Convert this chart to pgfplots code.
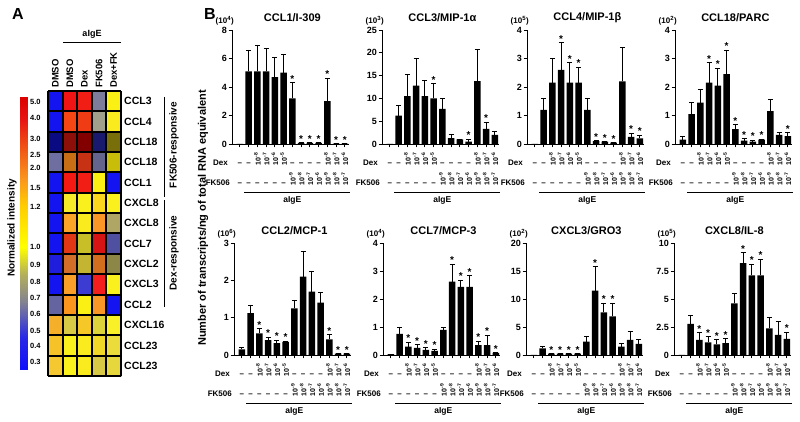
\documentclass[border=0pt]{standalone}
\usepackage{fontspec}
\setmainfont{Liberation Sans}
\usepackage{pgfplots}
\pgfplotsset{compat=1.18}
\newcommand{\fs}[1]{\fontsize{#1}{#1}\selectfont\bfseries}

\pgfplotsset{
  bp/.style={
    scale only axis, width=117.25pt, xmin=0.1, xmax=13.5, ymin=0,
    axis x line*=bottom, axis y line*=left,
    axis line style={line width=0.8pt, black},
    xtick={1,...,13}, xticklabels={},
    tick align=outside, major tick length=3.5pt,
    every tick/.style={line width=0.8pt, black},
    yticklabel style={font=\fs{9}, inner sep=1.5pt},
    /pgf/number format/assume math mode=true,
    clip=false, anchor=south west,
  },
  bars/.style={ybar, bar width=6.5pt, fill=black, draw=none,
    error bars/y dir=plus, error bars/y explicit,
    error bars/error bar style={line width=0.8pt, black},
    error bars/error mark options={rotate=90, mark size=2.6pt, line width=0.8pt, black}},
  stars/.style={draw=none, mark=none, nodes near coords={*},
    every node near coord/.style={anchor=base, inner sep=0pt, font=\fs{10}, yshift=0.5pt}},
  hmgeom/.style={at={(48pt,46pt)}, anchor=south west, scale only axis,
    width=73pt, height=285pt, xmin=-0.5, xmax=4.5, ymin=-0.5, ymax=13.5},
}

\newcommand{\Ld}[2]{\node[anchor=base, inner sep=0pt, font=\fs{8}, yshift=-#2] at (axis cs:#1,0) {--};}
\newcommand{\Lp}[3]{\node[anchor=south, inner sep=0pt, font=\fs{7}, yshift=-#2] at (axis cs:#1,0) {\rotatebox{90}{10\textsuperscript{-#3}}};}
\newcommand{\xrows}{%
  \Ld{1}{21.5pt}\Ld{2}{21.5pt}\Lp{3}{21.5pt}{8}\Lp{4}{21.5pt}{7}\Lp{5}{21.5pt}{6}\Lp{6}{21.5pt}{5}%
  \Ld{7}{21.5pt}\Ld{8}{21.5pt}\Ld{9}{21.5pt}\Ld{10}{21.5pt}\Lp{11}{21.5pt}{8}\Lp{12}{21.5pt}{7}\Lp{13}{21.5pt}{6}%
  \Ld{1}{41.5pt}\Ld{2}{41.5pt}\Ld{3}{41.5pt}\Ld{4}{41.5pt}\Ld{5}{41.5pt}\Ld{6}{41.5pt}%
  \Lp{7}{41.5pt}{9}\Lp{8}{41.5pt}{8}\Lp{9}{41.5pt}{7}\Lp{10}{41.5pt}{6}\Lp{11}{41.5pt}{9}\Lp{12}{41.5pt}{8}\Lp{13}{41.5pt}{7}%
  \node[anchor=base east, inner sep=0pt, font=\fs{8}, yshift=-21.5pt, xshift=-4pt] at (axis cs:0.1,0) {Dex};%
  \node[anchor=base east, inner sep=0pt, font=\fs{8}, yshift=-41.5pt, xshift=-2pt] at (axis cs:0.1,0) {FK506};%
  \draw[line width=0.8pt] ([yshift=-48pt]axis cs:1.5,0) -- ([yshift=-48pt]axis cs:13.6,0);%
  \node[inner sep=0pt, font=\fs{8.5}, yshift=-56pt] at (axis cs:7,0) {aIgE};%
}
\newcommand{\ptitle}[2]{%
  \node[font=\fs{11}, yshift=12.5pt] at (rel axis cs:0.515,1) {#1};%
  \node[font=\fs{8}, anchor=east, inner sep=0pt, yshift=9.5pt, xshift=2pt] at (rel axis cs:0,1) {(10\textsuperscript{#2})};%
}

\begin{document}
\begin{tikzpicture}
\useasboundingbox (0,0) rectangle (800pt,422pt);

% ---------------- Panel A ----------------
\node[font=\fs{16}] at (18pt,408pt) {A};
\node[font=\fs{16}] at (210pt,408pt) {B};

\begin{axis}[hmgeom,
  axis line style={draw=none},
  xtick=\empty,
  ytick={0,...,13},
  yticklabels={CCL23,CCL23,CXCL16,CCL2,CXCL3,CXCL2,CCL7,CXCL8,CXCL8,CCL1,CCL18,CCL18,CCL4,CCL3},
  yticklabel pos=right,
  yticklabel style={font=\fs{10.5}, anchor=west, inner sep=0pt, xshift=3pt},
  major tick length=0pt,
  clip=false,
  colormap={hm}{
    rgb255=(20,20,240) rgb255=(240,20,20) rgb255=(240,30,20) rgb255=(125,125,155) rgb255=(250,240,20)
    rgb255=(20,20,240) rgb255=(245,70,20) rgb255=(240,60,20) rgb255=(160,160,140) rgb255=(250,235,30)
    rgb255=(10,10,130) rgb255=(140,15,10) rgb255=(130,0,0) rgb255=(25,25,110) rgb255=(120,110,10)
    rgb255=(110,110,160) rgb255=(200,110,20) rgb255=(200,50,20) rgb255=(100,100,140) rgb255=(200,190,10)
    rgb255=(20,20,240) rgb255=(245,25,20) rgb255=(240,30,20) rgb255=(250,240,20) rgb255=(20,20,240)
    rgb255=(20,20,240) rgb255=(245,235,40) rgb255=(250,240,30) rgb255=(250,215,30) rgb255=(250,240,30)
    rgb255=(20,20,240) rgb255=(250,165,40) rgb255=(250,235,30) rgb255=(250,150,40) rgb255=(175,165,100)
    rgb255=(20,20,240) rgb255=(225,55,20) rgb255=(200,190,40) rgb255=(215,20,20) rgb255=(80,80,160)
    rgb255=(30,30,220) rgb255=(210,110,40) rgb255=(195,180,50) rgb255=(210,110,30) rgb255=(140,135,70)
    rgb255=(20,20,240) rgb255=(250,160,40) rgb255=(60,60,210) rgb255=(245,30,30) rgb255=(250,240,30)
    rgb255=(100,100,160) rgb255=(250,150,30) rgb255=(250,240,20) rgb255=(250,150,40) rgb255=(20,20,240)
    rgb255=(245,175,40) rgb255=(215,200,70) rgb255=(245,200,40) rgb255=(220,210,60) rgb255=(250,240,40)
    rgb255=(245,195,40) rgb255=(250,240,30) rgb255=(250,235,30) rgb255=(240,215,40) rgb255=(235,220,60)
    rgb255=(245,200,50) rgb255=(250,240,30) rgb255=(250,235,30) rgb255=(215,200,70) rgb255=(230,215,60)
  },
  colormap access=direct]
\addplot[matrix plot*, mesh/cols=5, point meta=explicit] table[meta=c]{
x y c
0 0 65
1 0 66
2 0 67
3 0 68
4 0 69
0 1 60
1 1 61
2 1 62
3 1 63
4 1 64
0 2 55
1 2 56
2 2 57
3 2 58
4 2 59
0 3 50
1 3 51
2 3 52
3 3 53
4 3 54
0 4 45
1 4 46
2 4 47
3 4 48
4 4 49
0 5 40
1 5 41
2 5 42
3 5 43
4 5 44
0 6 35
1 6 36
2 6 37
3 6 38
4 6 39
0 7 30
1 7 31
2 7 32
3 7 33
4 7 34
0 8 25
1 8 26
2 8 27
3 8 28
4 8 29
0 9 20
1 9 21
2 9 22
3 9 23
4 9 24
0 10 15
1 10 16
2 10 17
3 10 18
4 10 19
0 11 10
1 11 11
2 11 12
3 11 13
4 11 14
0 12 5
1 12 6
2 12 7
3 12 8
4 12 9
0 13 0
1 13 1
2 13 2
3 13 3
4 13 4
};
\node[anchor=south, inner sep=0pt, font=\fs{9.5}, yshift=3pt] at (axis cs:0,13.5) {\rotatebox{90}{DMSO}};
\node[anchor=south, inner sep=0pt, font=\fs{9.5}, yshift=3pt] at (axis cs:1,13.5) {\rotatebox{90}{DMSO}};
\node[anchor=south, inner sep=0pt, font=\fs{9.5}, yshift=3pt] at (axis cs:2,13.5) {\rotatebox{90}{Dex}};
\node[anchor=south, inner sep=0pt, font=\fs{9.5}, yshift=3pt] at (axis cs:3,13.5) {\rotatebox{90}{FK506}};
\node[anchor=south, inner sep=0pt, font=\fs{9.5}, yshift=3pt] at (axis cs:4,13.5) {\rotatebox{90}{Dex+FK}};
\end{axis}

% cell borders, drawn in an overlay axis on top of the heat map
\begin{axis}[hmgeom, hide axis, clip=false]
\pgfplotsinvokeforeach{-0.5,0.5,1.5,2.5,3.5,4.5,5.5,6.5,7.5,8.5,9.5,10.5,11.5,12.5,13.5}{
  \addplot[black, line width=2pt, mark=none] coordinates {(-0.5,#1) (4.5,#1)};
}
\pgfplotsinvokeforeach{-0.5,0.5,1.5,2.5,3.5,4.5}{
  \addplot[black, line width=2pt, mark=none] coordinates {(#1,-0.5) (#1,13.5)};
}
\end{axis}

\draw[line width=0.8pt] (63pt,380pt) -- (121pt,380pt);
\node[font=\fs{9}] at (92pt,388pt) {aIgE};

\draw[line width=0.8pt] (164pt,325pt) -- (164pt,225pt);
\draw[line width=0.8pt] (164pt,222pt) -- (164pt,115pt);
\node[font=\fs{10}, rotate=90] at (174pt,277pt) {FK506-responsive};
\node[font=\fs{10}, rotate=90] at (174pt,169pt) {Dex-responsive};

% colour bar
\begin{axis}[at={(20pt,52pt)}, anchor=south west, scale only axis,
  width=7pt, height=273pt,
  xmin=0, xmax=1, ymin=0, ymax=1,
  axis line style={draw=none},
  xtick=\empty,
  ytick={0.029,0.088,0.143,0.205,0.264,0.322,0.385,0.451,0.597,0.667,0.740,0.788,0.846,0.923,0.982},
  yticklabels={0.3,0.4,0.5,0.6,0.7,0.8,0.9,1.0,1.2,1.5,2.0,2.5,3.0,4.0,5.0},
  yticklabel pos=right,
  yticklabel style={font=\fs{7.5}, anchor=west, inner sep=0pt, xshift=3pt},
  major tick length=0pt, clip=false,
  colormap={grad}{rgb255(0)=(15,15,250) rgb255(12)=(40,40,230) rgb255(25)=(130,130,145) rgb255(35)=(180,175,90) rgb255(45)=(255,255,0) rgb255(60)=(255,205,0) rgb255(70)=(250,150,30) rgb255(82)=(240,80,20) rgb255(92)=(232,20,20) rgb255(100)=(220,0,0)},
  point meta min=0, point meta max=1]
\addplot[patch, patch type=rectangle, shader=interp, point meta=explicit] coordinates {
(0,0) [0] (1,0) [0] (1,0.12) [0.12] (0,0.12) [0.12]
(0,0.12) [0.12] (1,0.12) [0.12] (1,0.25) [0.25] (0,0.25) [0.25]
(0,0.25) [0.25] (1,0.25) [0.25] (1,0.35) [0.35] (0,0.35) [0.35]
(0,0.35) [0.35] (1,0.35) [0.35] (1,0.45) [0.45] (0,0.45) [0.45]
(0,0.45) [0.45] (1,0.45) [0.45] (1,0.6) [0.6] (0,0.6) [0.6]
(0,0.6) [0.6] (1,0.6) [0.6] (1,0.7) [0.7] (0,0.7) [0.7]
(0,0.7) [0.7] (1,0.7) [0.7] (1,0.82) [0.82] (0,0.82) [0.82]
(0,0.82) [0.82] (1,0.82) [0.82] (1,0.92) [0.92] (0,0.92) [0.92]
(0,0.92) [0.92] (1,0.92) [0.92] (1,1) [1] (0,1) [1]
};
\end{axis}
\node[font=\fs{10}, rotate=90] at (12pt,194pt) {Normalized intensity};

% ---------------- Panel B ----------------
\node[font=\fs{11}, rotate=90] at (203pt,204pt) {Number of transcripts/ng of total RNA equivalent};

% CCL1
\begin{axis}[bp, at={(232pt,278pt)}, height=114pt, ymax=8, ytick={0,2,4,6,8}]
\addplot[bars] table[x=x,y=y,y error=e]{
x y e
1 0 0
2 5.1 1.5
3 5.1 1.85
4 5.1 1.6
5 4.7 1.35
6 5.0 1.3
7 3.2 1.1
8 0.08 0
9 0.08 0
10 0.08 0
11 3.0 1.6
12 0.03 0
13 0.03 0
};
\addplot[stars] coordinates {(7,4.3) (8,0.08) (9,0.08) (10,0.08) (11,4.6) (12,0.03) (13,0.03)};
\ptitle{CCL1/I-309}{4}
\xrows
\end{axis}

% CCL3
\begin{axis}[bp, at={(382pt,278pt)}, height=114pt, ymax=25, ytick={0,5,10,15,20,25}]
\addplot[bars] table[x=x,y=y,y error=e]{
x y e
1 0 0
2 6.2 2.2
3 10.5 4.7
4 12.8 5.9
5 10.5 3.5
6 10.0 3.2
7 7.7 2.3
8 1.3 0.7
9 1.0 0.1
10 0.5 0.5
11 13.8 6.9
12 3.3 1.5
13 2.0 0.8
};
\addplot[stars] coordinates {(6,13.2) (10,1.0) (12,4.8)};
\ptitle{CCL3/MIP-1α}{3}
\xrows
\end{axis}

% CCL4
\begin{axis}[bp, at={(527pt,278pt)}, height=114pt, ymax=4, ytick={0,1,2,3,4}]
\addplot[bars] table[x=x,y=y,y error=e]{
x y e
1 0 0
2 1.2 0.4
3 2.15 0.85
4 2.6 0.95
5 2.15 0.7
6 2.15 0.55
7 1.2 0.4
8 0.1 0.02
9 0.08 0
10 0.05 0
11 2.2 1.2
12 0.25 0.12
13 0.2 0.1
};
\addplot[stars] coordinates {(4,3.55) (5,2.85) (6,2.7) (8,0.12) (9,0.08) (10,0.05) (12,0.37) (13,0.3)};
\ptitle{CCL4/MIP-1β}{5}
\xrows
\end{axis}

% CCL18
\begin{axis}[bp, at={(675pt,278pt)}, height=114pt, ymax=4, ytick={0,1,2,3,4}]
\addplot[bars] table[x=x,y=y,y error=e]{
x y e
1 0.15 0.1
2 1.05 0.4
3 1.45 0.45
4 2.15 0.7
5 2.05 0.6
6 2.45 0.85
7 0.52 0.15
8 0.12 0.07
9 0.08 0.05
10 0.15 0.02
11 1.15 0.42
12 0.32 0.1
13 0.28 0.12
};
\addplot[stars] coordinates {(4,2.85) (5,2.65) (6,3.3) (7,0.67) (8,0.19) (9,0.13) (10,0.17) (13,0.4)};
\ptitle{CCL18/PARC}{2}
\xrows
\end{axis}

% CCL2
\begin{axis}[bp, at={(234pt,67pt)}, height=112pt, ymax=3, ytick={0,1,2,3}]
\addplot[bars] table[x=x,y=y,y error=e]{
x y e
1 0.15 0.05
2 1.12 0.22
3 0.58 0.12
4 0.4 0.08
5 0.32 0.08
6 0.35 0.02
7 1.25 0.2
8 2.1 0.68
9 1.7 0.55
10 1.4 0.28
11 0.42 0.12
12 0.04 0
13 0.04 0
};
\addplot[stars] coordinates {(3,0.7) (4,0.48) (5,0.4) (6,0.37) (11,0.54) (12,0.04) (13,0.04)};
\ptitle{CCL2/MCP-1}{6}
\xrows
\end{axis}

% CCL7
\begin{axis}[bp, at={(383pt,67pt)}, height=112pt, ymax=4, ytick={0,1,2,3,4}]
\addplot[bars] table[x=x,y=y,y error=e]{
x y e
1 0.03 0
2 0.75 0.25
3 0.3 0.15
4 0.25 0.12
5 0.18 0.08
6 0.15 0.06
7 0.9 0.08
8 2.62 0.63
9 2.43 0.25
10 2.43 0.4
11 0.35 0.15
12 0.35 0.35
13 0.08 0
};
\addplot[stars] coordinates {(3,0.45) (4,0.37) (5,0.26) (6,0.21) (8,3.25) (9,2.68) (10,2.83) (11,0.5) (12,0.7) (13,0.08)};
\ptitle{CCL7/MCP-3}{4}
\xrows
\end{axis}

% CXCL3
\begin{axis}[bp, at={(526pt,67pt)}, height=112pt, ymax=20, ytick={0,5,10,15,20}]
\addplot[bars] table[x=x,y=y,y error=e]{
x y e
1 0 0
2 1.2 0.4
3 0.25 0
4 0.25 0
5 0.25 0
6 0.25 0
7 2.4 1.0
8 11.5 4.3
9 7.6 1.7
10 6.9 2.4
11 1.5 0.5
12 2.7 1.6
13 2.0 0.7
};
\addplot[stars] coordinates {(3,0.25) (4,0.25) (5,0.25) (6,0.25) (8,15.8) (9,9.3) (10,9.3)};
\ptitle{CXCL3/GRO3}{2}
\xrows
\end{axis}

% CXCL8
\begin{axis}[bp, at={(674pt,67pt)}, height=112pt, ymax=10, ytick={0,2.5,5,7.5,10}]
\addplot[bars] table[x=x,y=y,y error=e]{
x y e
1 0 0
2 2.77 0.8
3 1.34 0.66
4 1.13 0.51
5 0.95 0.4
6 1.05 0.4
7 4.6 0.9
8 8.2 0.93
9 7.1 1.0
10 7.1 1.47
11 2.38 0.98
12 1.79 1.18
13 1.43 0.59
};
\addplot[stars] coordinates {(3,2.0) (4,1.64) (5,1.35) (6,1.45) (8,9.13) (9,8.1) (10,8.57) (13,2.02)};
\ptitle{CXCL8/IL-8}{5}
\xrows
\end{axis}

\end{tikzpicture}
\end{document}
